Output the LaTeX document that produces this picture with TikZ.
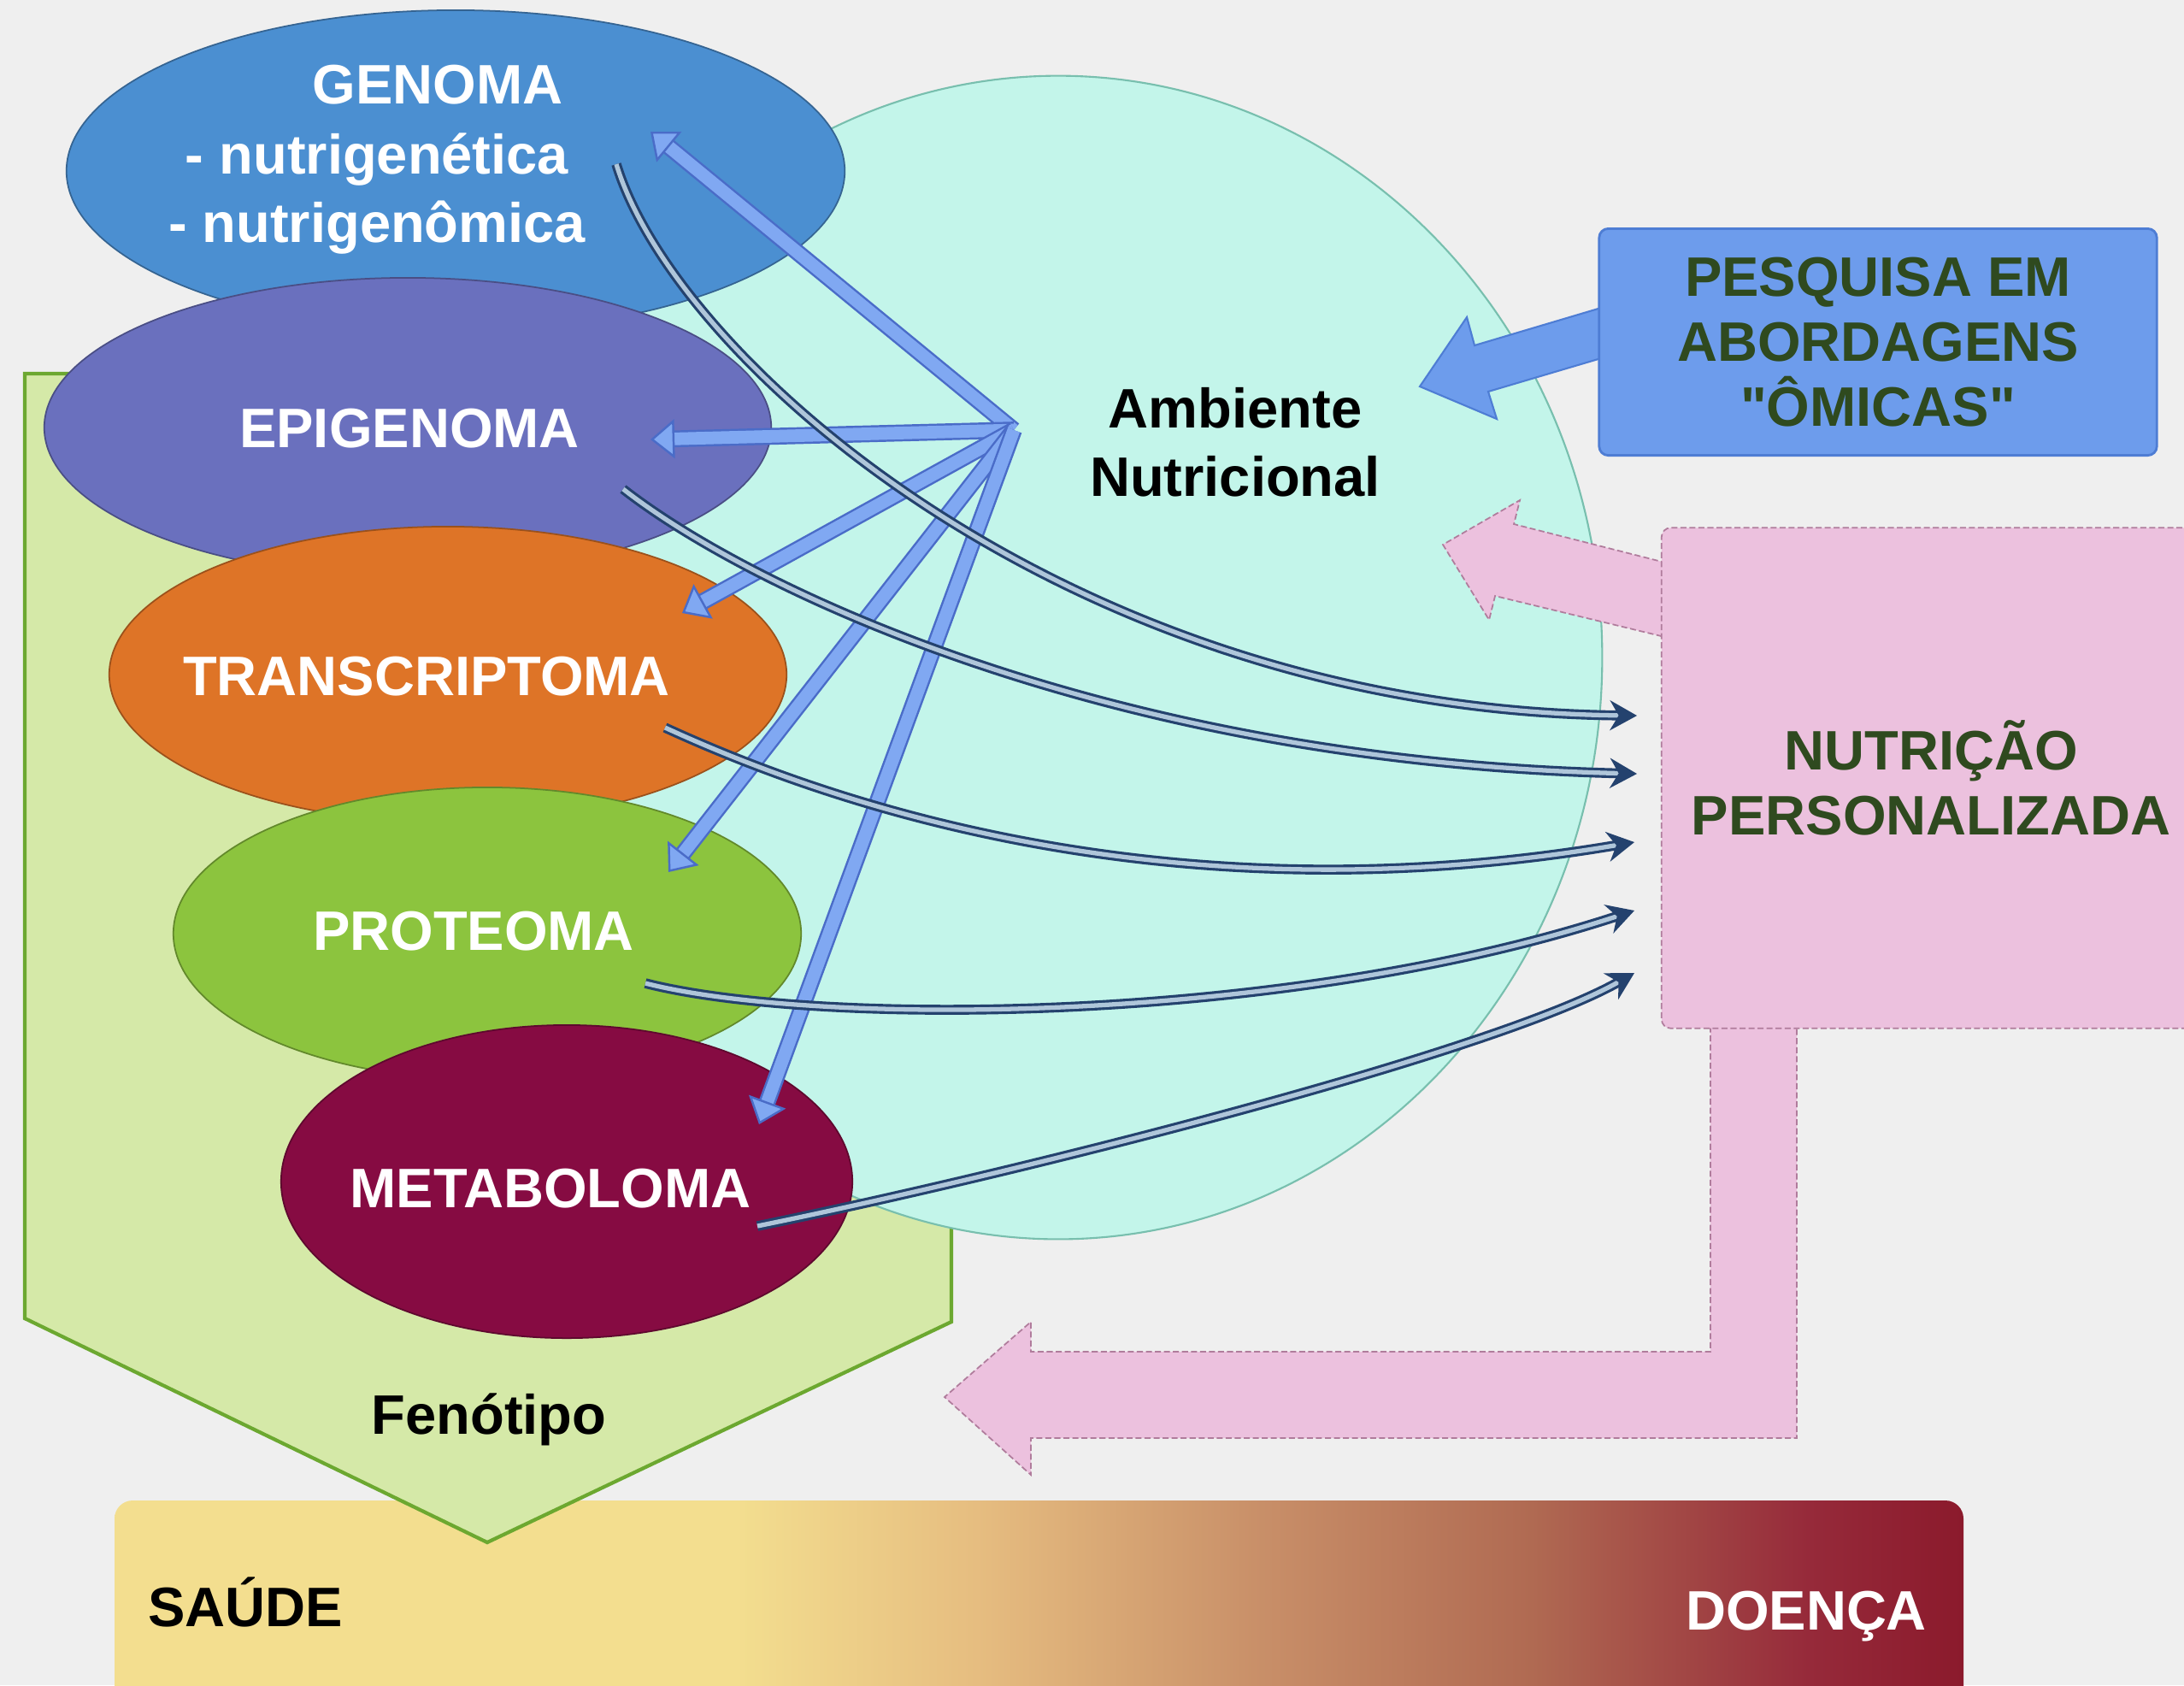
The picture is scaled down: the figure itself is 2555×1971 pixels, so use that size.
\documentclass[tikz,border=0pt]{standalone}
\usepackage{fontspec}
\setmainfont{Liberation Sans}[Ligatures=TeXOff]
\usetikzlibrary{shapes.geometric,arrows.meta}

\definecolor{fundo}{HTML}{EFEFEF}
\definecolor{cgenoma}{HTML}{4B8FD1}
\definecolor{cepigenoma}{HTML}{6A70BE}
\definecolor{ctranscr}{HTML}{DE7427}
\definecolor{cproteoma}{HTML}{8CC43E}
\definecolor{cmetab}{HTML}{860B42}
\definecolor{cambiente}{HTML}{C3F5EA}
\definecolor{cambborda}{HTML}{78BFAE}
\definecolor{cfenotipo}{HTML}{D5E9A8}
\definecolor{cfenoborda}{HTML}{6CA830}
\definecolor{cpesquisa}{HTML}{6D9CEC}
\definecolor{cpesqborda}{HTML}{4E7DD4}
\definecolor{crosa}{HTML}{ECC1DE}
\definecolor{crosaborda}{HTML}{B07C9C}
\definecolor{ctexto}{HTML}{2F4A1F}
\definecolor{fiocor}{HTML}{80A8F2}
\definecolor{fioborda}{HTML}{4A6CC8}
\definecolor{marinho}{HTML}{24426E}
\definecolor{curvafundo}{HTML}{AFC6DA}
\definecolor{barA}{HTML}{F3DE8F}
\definecolor{barB}{HTML}{E6BD80}
\definecolor{barC}{HTML}{C99069}
\definecolor{barD}{HTML}{B06A52}
\definecolor{barE}{HTML}{962A3A}
\definecolor{barF}{HTML}{8B1A2C}

\pgfdeclarehorizontalshading{saudedoenca}{100bp}{color(0bp)=(barA); color(41.8bp)=(barA); color(48.3bp)=(barB); color(55.8bp)=(barC); color(63.3bp)=(barD); color(70.8bp)=(barE); color(75bp)=(barF); color(100bp)=(barF)}

\begin{document}
\begin{tikzpicture}[x=0.01cm, y=-0.01cm,
	rotulo/.style={font=\bfseries\fontsize{18.5pt}{22.5pt}\selectfont, align=center, inner sep=0pt, anchor=base},
	omica/.style={ellipse, draw=#1!70!black, fill=#1, line width=0.5pt, inner sep=0pt},
	caixa/.style={rectangle, rounded corners=3pt, font=\bfseries\fontsize{18.5pt}{21.5pt}\selectfont, align=center, text=ctexto, inner sep=0pt},
	rosa/.style={fill=crosa, draw=crosaborda, line width=0.5pt, dash pattern=on 2pt off 1pt},
	fino/.style={draw=fioborda, double=fiocor, line width=0.7pt, double distance=4.2pt, -{Triangle[length=8pt, width=13pt, fill=fiocor]}},
	curva/.style={draw=marinho, double=curvafundo, line width=0.9pt, double distance=1.5pt, -{Stealth[length=9pt, width=10pt, fill=marinho]}}]
		\clip (0,0) rectangle (2555,1971);
		\fill[fundo] (0,0) rectangle (2555,1971);
		
		% barra saude - doenca
		\shade[shading=saudedoenca, rounded corners=6pt] (134,1755) rectangle (2297,2010);
		\node[rotulo] (tsaude) at (287,1902) {SAÚDE};
		\node[rotulo, text=white] (tdoenca) at (2113,1906) {DOENÇA};
		
		% fenotipo
		\draw[draw=cfenoborda, fill=cfenotipo, line width=1.2pt] (29,437) -- (1113,437) -- (1113,1546) -- (570,1804) -- (29,1542) -- cycle;
		\node[rotulo] (tfenotipo) at (572,1677) {Fenótipo};
		
		\node[ellipse, draw=cambborda, fill=cambiente, line width=0.6pt, minimum width=12.72cm, minimum height=13.6cm] (ambiente) at (1238,769) {};
		
		\node[omica=cgenoma, minimum width=9.1cm, minimum height=3.76cm] (genoma) at (533,200) {};
		\node[omica=cepigenoma, minimum width=8.5cm, minimum height=3.5cm] (epigenoma) at (477,500) {};
		\node[omica=ctranscr, minimum width=7.92cm, minimum height=3.46cm] (transcriptoma) at (524,789) {};
		\node[omica=cproteoma, minimum width=7.34cm, minimum height=3.42cm] (proteoma) at (570,1092) {};
		\node[omica=cmetab, minimum width=6.68cm, minimum height=3.66cm] (metaboloma) at (663,1382) {};
		
		\node[rotulo, text=white] (tgenoma) at (512,121) {GENOMA};
		\node[rotulo, text=white] (tnutri) at (441,283) {- nutrigenética\\- nutrigenômica};
		\node[rotulo, text=white] (tepigenoma) at (479,523) {EPIGENOMA};
		\node[rotulo, text=white] (ttranscr) at (499,813) {TRANSCRIPTOMA};
		\node[rotulo, text=white] (tproteoma) at (554,1111) {PROTEOMA};
		\node[rotulo, text=white] (tmetab) at (644,1412) {METABOLOMA};
		\node[rotulo] (tambiente) at (1445,580) {Ambiente\\Nutricional};
		
		% setas rosa
		\draw[rosa] (2001,1190) -- (2001,1581) -- (1206,1581) -- (1206,1546) -- (1105,1634) -- (1206,1725) -- (1206,1682) -- (2102,1682) -- (2102,1190) -- cycle;
		\draw[rosa] (1960,661) -- (1771,613) -- (1778,585) -- (1688,637) -- (1742,725) -- (1749,697) -- (1960,748) -- cycle;
		\node[caixa, rosa, minimum width=6.3cm, minimum height=5.85cm] (nutricao) at (2259,910) {NUTRIÇÃO\\PERSONALIZADA};
		
		% seta azul
		\draw[fill=cpesquisa, draw=cpesqborda, line width=0.6pt] (1890,355) -- (1725,404) -- (1716,371) -- (1661,452) -- (1751,490) -- (1741,458) -- (1890,414) -- cycle;
		\node[caixa, fill=cpesquisa, draw=cpesqborda, line width=0.8pt, minimum width=6.52cm, minimum height=2.65cm] (pesquisa) at (2197,400) {PESQUISA EM\\ABORDAGENS\\"ÔMICAS"};
		
		% setas finas
		\coordinate (hub) at (1186,503);
		\coordinate (genoma-in) at (761,154);
		\coordinate (epigenoma-in) at (761,514);
		\coordinate (transcriptoma-in) at (798,717);
		\coordinate (proteoma-in) at (782,1020);
		\coordinate (metaboloma-in) at (888,1315);
		\foreach \alvo in {genoma, epigenoma, transcriptoma, proteoma, metaboloma}{
			\draw[fino] (hub) -- (\alvo-in);
		}
		
		% curvas para nutricao
		\coordinate (c1) at (721,192);
		\coordinate (c2) at (729,572);
		\coordinate (c3) at (778,851);
		\coordinate (c4) at (755,1150);
		\coordinate (c5) at (886,1434);
		\draw[curva] (c1) .. controls (790,420) and (1250,830) .. (1915,837);
		\draw[curva] (c2) .. controls (880,690) and (1300,890) .. (1915,905);
		\draw[curva] (c3) .. controls (950,930) and (1350,1080) .. (1912,985);
		\draw[curva] (c4) .. controls (950,1200) and (1500,1200) .. (1912,1065);
		\draw[curva] (c5) .. controls (1200,1370) and (1750,1230) .. (1912,1138);
\end{tikzpicture}
\end{document}
